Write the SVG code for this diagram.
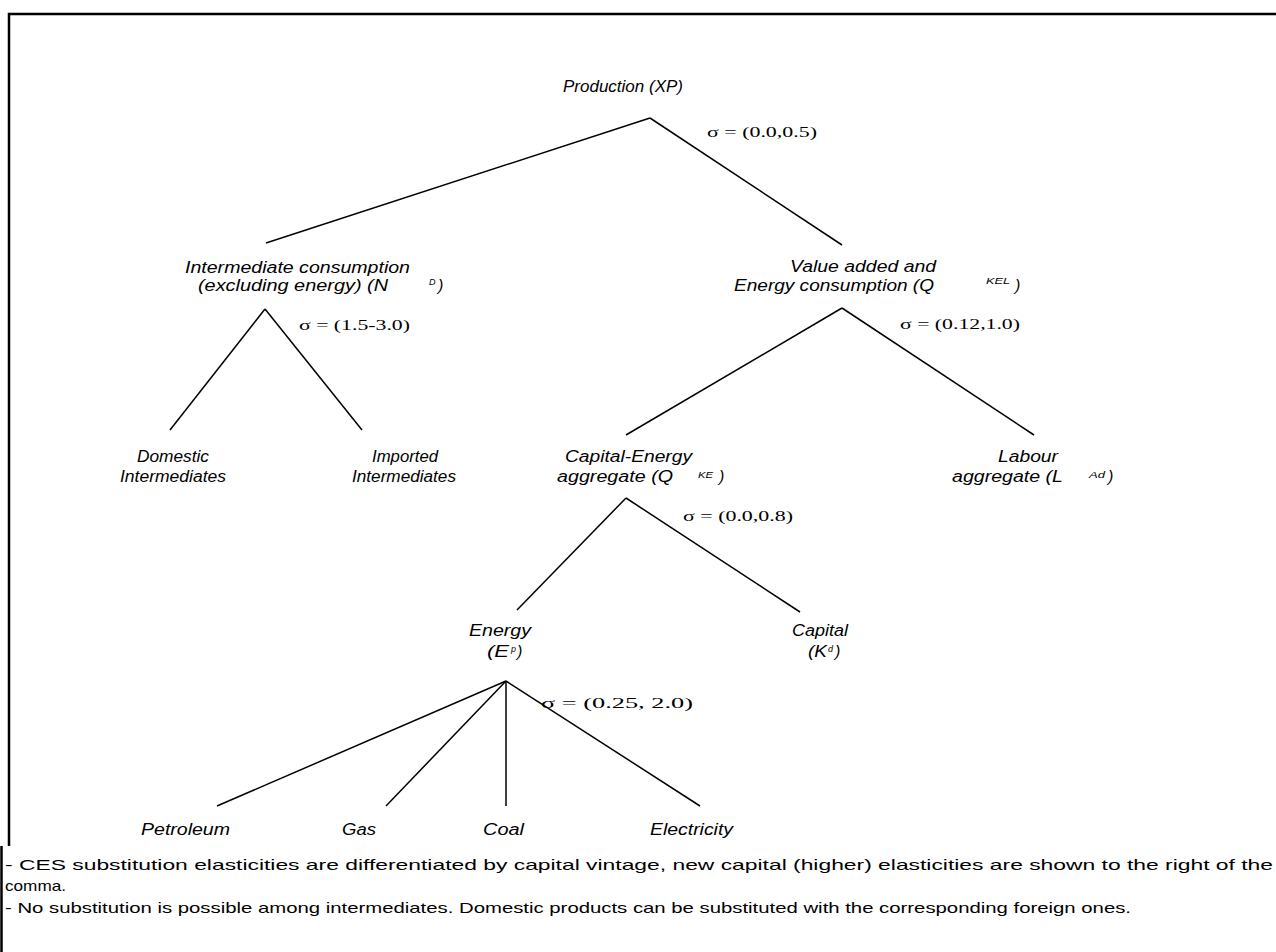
<svg xmlns="http://www.w3.org/2000/svg" width="1276" height="952" viewBox="0 0 1276 952">
<style>
.t{font-family:"Liberation Sans",Arial,sans-serif;font-style:italic;font-size:16px;fill:#000}
.sup{font-family:"Liberation Sans",Arial,sans-serif;font-style:italic;font-size:9px;fill:#000}
.s{font-family:"Liberation Serif","Times New Roman",serif;font-size:14px;fill:#000}
.n{font-family:"Liberation Sans",Arial,sans-serif;font-size:15px;fill:#000}
.e{stroke:#000;stroke-width:1.5;fill:none}
.b{stroke:#000;stroke-width:2.5;fill:none}
</style>
<rect width="1276" height="952" fill="#fff"/>
<path class="b" d="M9 846 V14 H1276"/>
<path class="b" d="M1.5 846 V952"/>
<g id="connectors">
<line class="e" x1="650" y1="118" x2="266" y2="243"/>
<line class="e" x1="650" y1="118" x2="842" y2="245"/>
<line class="e" x1="265" y1="309" x2="170" y2="430"/>
<line class="e" x1="265" y1="309" x2="362" y2="430"/>
<line class="e" x1="842" y1="308" x2="626" y2="435"/>
<line class="e" x1="842" y1="308" x2="1034" y2="435"/>
<line class="e" x1="626" y1="498" x2="517" y2="610"/>
<line class="e" x1="626" y1="498" x2="800" y2="612"/>
<line class="e" x1="506" y1="681" x2="217" y2="806"/>
<line class="e" x1="506" y1="681" x2="386" y2="806"/>
<line class="e" x1="506" y1="681" x2="506" y2="806"/>
<line class="e" x1="506" y1="681" x2="700" y2="806"/>
</g>
<g id="production">
<text class="t" x="563" y="92" textLength="120" lengthAdjust="spacingAndGlyphs">Production (XP)</text>
<text class="s" x="707" y="137" textLength="110" lengthAdjust="spacingAndGlyphs">σ = (0.0,0.5)</text>
</g>
<g id="intermediate">
<text class="t" x="185" y="273" textLength="225" lengthAdjust="spacingAndGlyphs">Intermediate consumption</text>
<text class="t" x="198" y="291" textLength="190" lengthAdjust="spacingAndGlyphs">(excluding energy) (N</text>
<text class="sup" x="429" y="285">D</text>
<text class="t" x="438" y="291">)</text>
<text class="s" x="299" y="330" textLength="111" lengthAdjust="spacingAndGlyphs">σ = (1.5-3.0)</text>
</g>
<g id="valueadded">
<text class="t" x="790" y="272" textLength="146" lengthAdjust="spacingAndGlyphs">Value added and</text>
<text class="t" x="734" y="291" textLength="200" lengthAdjust="spacingAndGlyphs">Energy consumption (Q</text>
<text class="sup" x="986" y="284" textLength="24" lengthAdjust="spacingAndGlyphs">KEL</text>
<text class="t" x="1015" y="291">)</text>
<text class="s" x="900" y="329" textLength="120" lengthAdjust="spacingAndGlyphs">σ = (0.12,1.0)</text>
</g>
<g id="domestic">
<text class="t" x="137" y="462" textLength="72" lengthAdjust="spacingAndGlyphs">Domestic</text>
<text class="t" x="120" y="482" textLength="106" lengthAdjust="spacingAndGlyphs">Intermediates</text>
</g>
<g id="imported">
<text class="t" x="372" y="462" textLength="66" lengthAdjust="spacingAndGlyphs">Imported</text>
<text class="t" x="352" y="482" textLength="104" lengthAdjust="spacingAndGlyphs">Intermediates</text>
</g>
<g id="capitalenergy">
<text class="t" x="565" y="462" textLength="127" lengthAdjust="spacingAndGlyphs">Capital-Energy</text>
<text class="t" x="557" y="482" textLength="116" lengthAdjust="spacingAndGlyphs">aggregate (Q</text>
<text class="sup" x="698" y="478" textLength="15" lengthAdjust="spacingAndGlyphs">KE</text>
<text class="t" x="719" y="482">)</text>
<text class="s" x="683" y="521" textLength="110" lengthAdjust="spacingAndGlyphs">σ = (0.0,0.8)</text>
</g>
<g id="labour">
<text class="t" x="998" y="462" textLength="60" lengthAdjust="spacingAndGlyphs">Labour</text>
<text class="t" x="952" y="482" textLength="111" lengthAdjust="spacingAndGlyphs">aggregate (L</text>
<text class="sup" x="1089" y="478" textLength="16" lengthAdjust="spacingAndGlyphs">Ad</text>
<text class="t" x="1108" y="482">)</text>
</g>
<g id="energy">
<text class="t" x="469" y="636" textLength="62" lengthAdjust="spacingAndGlyphs">Energy</text>
<text class="t" x="487" y="657" textLength="22" lengthAdjust="spacingAndGlyphs">(E</text>
<text class="sup" x="511" y="652">p</text>
<text class="t" x="517" y="657">)</text>
<text class="s" x="541" y="708" textLength="152" lengthAdjust="spacingAndGlyphs">σ = (0.25, 2.0)</text>
</g>
<g id="capital">
<text class="t" x="792" y="636" textLength="56" lengthAdjust="spacingAndGlyphs">Capital</text>
<text class="t" x="808" y="657" textLength="19" lengthAdjust="spacingAndGlyphs">(K</text>
<text class="sup" x="828" y="652">d</text>
<text class="t" x="835" y="657">)</text>
</g>
<g id="petroleum"><text class="t" x="141" y="835" textLength="89" lengthAdjust="spacingAndGlyphs">Petroleum</text></g>
<g id="gas"><text class="t" x="342" y="835" textLength="34" lengthAdjust="spacingAndGlyphs">Gas</text></g>
<g id="coal"><text class="t" x="483" y="835" textLength="41" lengthAdjust="spacingAndGlyphs">Coal</text></g>
<g id="electricity"><text class="t" x="650" y="835" textLength="83" lengthAdjust="spacingAndGlyphs">Electricity</text></g>
<g id="notes">
<text class="n" x="5" y="870" textLength="1268" lengthAdjust="spacingAndGlyphs">- CES substitution elasticities are differentiated by capital vintage, new capital (higher) elasticities are shown to the right of the</text>
<text class="n" x="5" y="891" textLength="61" lengthAdjust="spacingAndGlyphs">comma.</text>
<text class="n" x="5" y="913" textLength="1126" lengthAdjust="spacingAndGlyphs">- No substitution is possible among intermediates. Domestic products can be substituted with the corresponding foreign ones.</text>
</g>
</svg>
